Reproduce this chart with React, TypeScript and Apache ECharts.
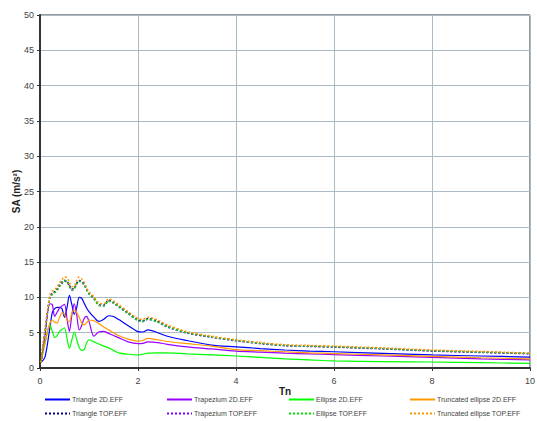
import React, { useEffect, useRef } from "react";
import * as echarts from "echarts";

const periods = [0.02, 0.1, 0.2, 0.25, 0.3, 0.35, 0.4, 0.45, 0.5, 0.55, 0.6, 0.65, 0.7, 0.75, 0.8, 0.85, 0.9, 0.95, 1.0, 1.1, 1.2, 1.3, 1.4, 1.5, 1.6, 1.8, 2.0, 2.1, 2.2, 2.4, 2.6, 3.0, 3.5, 4, 4.5, 5, 5.5, 6, 7, 8, 9, 10];

const triangle2D = [0.8, 1.5, 5.6, 7.8, 8.4, 8.6, 8.6, 8.4, 7.2, 8.5, 10.3, 9.0, 7.6, 8.6, 10.0, 9.9, 9.2, 8.5, 8.0, 7.2, 6.6, 6.9, 7.4, 7.3, 6.9, 6.0, 5.15, 5.1, 5.4, 5.0, 4.5, 3.9, 3.25, 3.0, 2.75, 2.55, 2.4, 2.3, 2.08, 1.85, 1.7, 1.55];
const trapezium2D = [0.8, 4.5, 9.1, 9.0, 7.3, 7.9, 8.5, 8.8, 9.0, 7.0, 5.2, 7.5, 9.1, 7.5, 5.4, 6.0, 7.0, 7.3, 6.6, 4.5, 5.1, 5.2, 4.9, 4.6, 4.3, 3.7, 3.45, 3.5, 3.7, 3.6, 3.35, 3.0, 2.7, 2.4, 2.25, 2.1, 2.0, 1.9, 1.7, 1.5, 1.3, 1.15];
const ellipse2D = [0.8, 3.5, 6.1, 5.2, 4.35, 4.6, 5.2, 5.5, 5.7, 4.2, 2.8, 4.0, 5.1, 4.0, 2.9, 2.5, 2.6, 3.5, 4.0, 3.7, 3.4, 3.1, 2.85, 2.5, 2.15, 1.95, 1.84, 1.95, 2.1, 2.15, 2.15, 2.0, 1.85, 1.7, 1.5, 1.3, 1.15, 1.0, 0.9, 0.85, 0.75, 0.65];
const truncEllipse2D = [0.8, 3.5, 6.3, 6.8, 6.5, 6.4, 7.2, 7.8, 7.6, 6.8, 6.6, 7.8, 8.2, 7.8, 7.2, 6.4, 6.1, 6.4, 6.8, 6.7, 6.3, 5.8, 5.4, 5.0, 4.6, 4.1, 3.8, 3.9, 4.2, 4.0, 3.75, 3.45, 3.1, 2.6, 2.45, 2.3, 2.15, 2.05, 1.85, 1.65, 1.45, 1.3];
const triangleTop = [0.8, 5.0, 10.0, 10.6, 10.8, 11.2, 11.8, 12.2, 12.4, 12.3, 11.7, 11.2, 11.3, 12.0, 12.4, 12.2, 11.9, 11.2, 10.6, 9.9, 9.0, 8.9, 9.6, 9.3, 8.8, 7.8, 6.8, 6.7, 7.0, 6.6, 5.9, 5.0, 4.4, 3.9, 3.5, 3.2, 3.1, 3.0, 2.75, 2.45, 2.25, 2.05];
const trapeziumTop = [0.8, 5.2, 10.1, 10.5, 10.7, 11.1, 11.6, 12.0, 12.3, 12.2, 11.6, 11.0, 11.2, 12.0, 12.3, 12.1, 11.8, 11.1, 10.5, 9.8, 8.9, 8.8, 9.5, 9.2, 8.7, 7.7, 6.7, 6.6, 6.9, 6.5, 5.8, 4.95, 4.35, 3.85, 3.45, 3.15, 3.05, 2.95, 2.7, 2.4, 2.2, 2.0];
const ellipseTop = [0.8, 5.1, 9.9, 10.4, 10.7, 11.0, 11.6, 12.1, 12.4, 12.3, 11.6, 11.1, 11.2, 11.9, 12.3, 12.1, 11.8, 11.1, 10.5, 9.8, 8.9, 8.8, 9.5, 9.2, 8.7, 7.7, 6.7, 6.6, 6.9, 6.5, 5.85, 5.0, 4.4, 3.9, 3.5, 3.2, 3.1, 3.0, 2.75, 2.45, 2.25, 2.05];
const truncEllipseTop = [0.8, 5.3, 10.3, 10.9, 11.1, 11.5, 12.1, 12.5, 12.9, 12.8, 12.1, 11.5, 11.6, 12.4, 12.9, 12.6, 12.2, 11.4, 10.8, 10.1, 9.2, 9.1, 9.8, 9.5, 9.0, 8.0, 7.0, 6.9, 7.2, 6.8, 6.1, 5.15, 4.5, 4.0, 3.6, 3.3, 3.2, 3.1, 2.85, 2.55, 2.35, 2.1];

const seriesNames = [
  "Triangle 2D.EFF",
  "Trapezium 2D.EFF",
  "Ellipse 2D.EFF",
  "Truncated ellipse 2D.EFF",
  "Triangle TOP.EFF",
  "Trapezium TOP.EFF",
  "Ellipse TOP.EFF",
  "Truncated ellipse TOP.EFF",
];
const seriesValues = [triangle2D, trapezium2D, ellipse2D, truncEllipse2D, triangleTop, trapeziumTop, ellipseTop, truncEllipseTop];
const seriesColors = ["#0000ff", "#9900ff", "#00ff00", "#ff9900", "#000080", "#8000ff", "#00e000", "#ff9900"];
const dotted = [false, false, false, false, true, true, true, true];

export default function App() {
  const ref = useRef<HTMLDivElement>(null);
  useEffect(() => {
    if (!ref.current) return;
    const chart = echarts.init(ref.current, null, { renderer: "svg" });
    const font = "Liberation Sans, Arial, sans-serif";
    const colX = [44, 166, 288, 409];
    const rowY = [396, 410];
    const legends = seriesNames.map((n, i) => ({
      data: [n],
      left: colX[i % 4],
      top: rowY[Math.floor(i / 4)],
      itemWidth: 25,
      itemHeight: 8,
      itemGap: 2,
      padding: 0,
      itemStyle: { opacity: 0 },
      textStyle: { fontSize: 7, color: "#444", fontFamily: font, padding: [0, 0, 0, -3] },
    }));
    chart.setOption({
      animation: false,
      backgroundColor: "#fff",
      grid: { left: 40, right: 7, top: 15, bottom: 53, show: true, borderColor: "#333", borderWidth: 1, outerBoundsMode: "none", containLabel: false },
      legend: legends,
      xAxis: {
        type: "value",
        min: 0,
        max: 10,
        interval: 2,
        name: "Tn",
        nameLocation: "middle",
        nameGap: 18,
        nameMoveOverlap: false,
        nameTextStyle: { fontSize: 10, fontWeight: "bold", color: "#222", fontFamily: font },
        axisLine: { lineStyle: { color: "#333", width: 2 } },
        axisTick: { show: true, length: 3, lineStyle: { color: "#333" } },
        axisLabel: { fontSize: 9, color: "#444", fontFamily: font, margin: 8 },
        splitLine: { show: true, lineStyle: { color: "#a9bcc6", width: 1 } },
      },
      yAxis: {
        type: "value",
        min: 0,
        max: 50,
        interval: 5,
        name: "SA (m/s²)",
        nameLocation: "middle",
        nameGap: 19,
        nameMoveOverlap: false,
        nameRotate: 90,
        nameTextStyle: { fontSize: 10, fontWeight: "bold", color: "#222", fontFamily: font },
        axisLine: { show: true, lineStyle: { color: "#333", width: 2 } },
        axisTick: { show: true, length: 3, lineStyle: { color: "#333" } },
        axisLabel: { fontSize: 9, color: "#444", fontFamily: font, margin: 6 },
        splitLine: { show: true, lineStyle: { color: "#a9bcc6", width: 1 } },
      },
      series: seriesNames.map((n, i) => ({
        name: n,
        type: "line",
        symbol: "none",
        smooth: 0.3,
        data: periods.map((p, j) => [p, seriesValues[i][j]]),
        lineStyle: {
          color: seriesColors[i],
          width: dotted[i] ? 1.5 : 1.2,
          type: dotted[i] ? [2, 2] : "solid",
        },
        itemStyle: { color: seriesColors[i] },
      })),
    });
    return () => chart.dispose();
  }, []);
  return <div ref={ref} style={{ width: 537, height: 421, position: "absolute", left: 0, top: 0 }} />;
}
